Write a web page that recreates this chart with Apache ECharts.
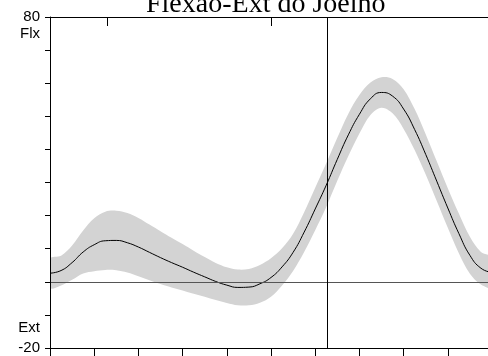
<!DOCTYPE html>
<html>
<head>
<meta charset="utf-8">
<script src="https://cdn.jsdelivr.net/npm/echarts@6.0.0/dist/echarts.min.js"></script>
<style>
    html, body { margin: 0; padding: 0; background: #fff; }
    #main { width: 488px; height: 356px; }
</style>
</head>
<body>
<div id="main"></div>
<script>
const chart = echarts.init(document.querySelector('#main'));

// % do ciclo da marcha
const ciclo = [0, 2.5, 5, 7.5, 10, 12.5, 15, 17.5, 20, 22.5, 25, 27.5, 30, 32.5, 35, 37.5, 40, 42.5, 45, 47.5,
    50, 52.5, 55, 57.5, 60, 62.5, 65, 67.5, 70, 72.5, 75, 77.5, 80, 82.5, 85, 87.5, 90, 92.5, 95, 97.5, 100];
// média (graus)
const media = [2.6, 3.4, 5.8, 9.0, 11.2, 12.4, 12.5, 11.8, 10.5, 8.9, 7.3, 5.8, 4.4, 2.9, 1.5, 0.1, -1.0, -1.7, -1.6, -0.6,
    1.3, 4.5, 8.9, 15.0, 22.0, 29.2, 37.0, 44.4, 50.6, 55.3, 57.2, 56.1, 52.2, 46.0, 38.5, 30.4, 22.3, 14.6, 8.0, 4.1, 2.8];
// desvio padrão
const desvio = [4.4, 4.5, 5.2, 6.5, 8.0, 8.8, 9.0, 9.0, 8.8, 8.4, 8.0, 7.5, 7.0, 6.5, 6.0, 5.6, 5.4, 5.4, 5.5, 5.7,
    5.8, 5.6, 5.6, 6.0, 6.4, 6.6, 6.5, 6.4, 5.8, 4.9, 4.6, 5.2, 6.0, 6.2, 6.1, 6.0, 6.0, 6.0, 5.6, 4.9, 4.5];

const yTicks = [-20, -10, 0, 10, 20, 30, 40, 50, 60, 70, 80];
const yLabelValues = [80, 75, -14, -20];
const yLabelTexts = ['80', 'Flx', 'Ext', '-20'];
const xTicks = [0, 10, 20, 30, 40, 50, 60, 70, 80, 90, 100];
const eventos = [13, 50];      // marcas no topo
const toeOff = 62.8;          // linha vertical

const linhaMedia = ciclo.map((x, i) => [x, media[i]]);

// faixa média ± desvio, desenhada como um polígono pelas escalas do gráfico
function desenhaFaixa(params, api) {
    if (params.dataIndex !== 0) return;
    const pts = [];
    for (let i = 0; i < ciclo.length; i++) {
        pts.push(api.coord([ciclo[i], media[i] + desvio[i]]));
    }
    for (let i = ciclo.length - 1; i >= 0; i--) {
        pts.push(api.coord([ciclo[i], media[i] - desvio[i]]));
    }
    return {
        type: 'polygon',
        shape: { points: pts, smooth: 0.35 },
        style: { fill: '#d3d3d3' }
    };
}

let option = {
    animation: false,
    title: {
        text: 'Flexão-Ext do Joelho',
        left: 146,
        top: -9,
        padding: 0,
        textStyle: {
            fontFamily: 'Liberation Serif',
            fontSize: 28,
            fontWeight: 'normal',
            color: '#000'
        }
    },
    grid: {
        left: 50,
        right: -4,
        top: 17,
        bottom: 8,
        outerBoundsMode: 'none'
    },
    xAxis: [
        {
            type: 'value',
            min: 0,
            max: 100,
            interval: 10,
            splitLine: { show: false },
            axisLine: { onZero: false, lineStyle: { color: '#000', width: 1 } },
            axisTick: { length: 10, customValues: xTicks, lineStyle: { color: '#000' } },
            axisLabel: { show: false }
        },
        {
            type: 'value',
            position: 'top',
            min: 0,
            max: 100,
            z: 5,
            splitLine: { show: false },
            axisLine: { onZero: false, lineStyle: { color: '#000', width: 1 } },
            axisTick: { show: true, inside: true, length: 9, customValues: eventos, lineStyle: { color: '#000', width: 1 } },
            axisLabel: { show: false }
        }
    ],
    yAxis: {
        type: 'value',
        min: -20,
        max: 80,
        interval: 10,
        z: 5,
        splitLine: { show: false },
        axisLine: { show: true, onZero: false, lineStyle: { color: '#000', width: 1 } },
        axisTick: { show: true, length: 5, customValues: yTicks, lineStyle: { color: '#000' } },
        axisLabel: {
            customValues: yLabelValues,
            margin: 10,
            fontFamily: 'Liberation Sans',
            fontSize: 15,
            color: '#000',
            formatter: (v) => yLabelTexts[yLabelValues.indexOf(v)]
        }
    },
    series: [
        {
            name: 'faixa',
            type: 'custom',
            renderItem: desenhaFaixa,
            data: [[0, 0]],
            clip: true,
            silent: true
        },
        {
            name: 'media',
            type: 'line',
            data: linhaMedia,
            smooth: true,
            symbol: 'none',
            lineStyle: { color: '#000', width: 1 },
            markLine: {
                silent: true,
                symbol: 'none',
                label: { show: false },
                data: [
                    { yAxis: 0, lineStyle: { color: '#555', width: 1, type: 'solid' } },
                    { xAxis: toeOff, lineStyle: { color: '#000', width: 1, type: 'solid' } }
                ]
            }
        }
    ]
};
chart.setOption(option);
</script>
</body>
</html>
